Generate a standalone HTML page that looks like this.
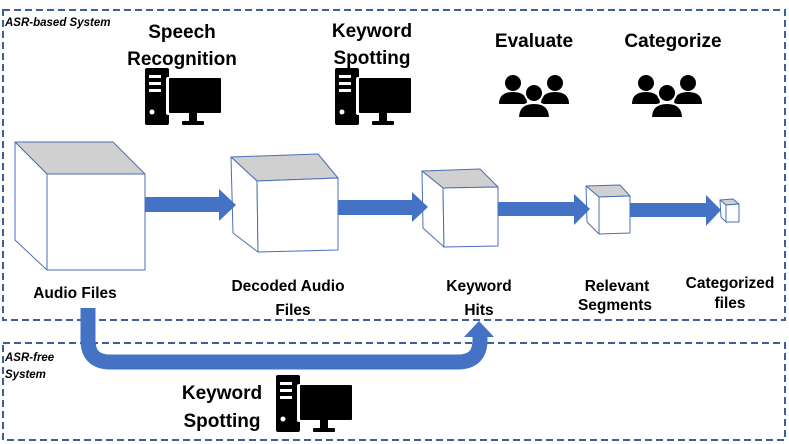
<!DOCTYPE html>
<html><head><meta charset="utf-8"><style>
body{margin:0;background:#fff}
svg{display:block}
text{font-family:"Liberation Sans",sans-serif;fill:#000}
.t{font-size:19px;font-weight:bold;text-anchor:middle}
.l{font-size:15.5px;font-weight:bold;text-anchor:middle}
.i{font-size:11.5px;font-style:italic;font-weight:bold}
</style></head><body>
<svg width="789" height="444" viewBox="0 0 789 444">
<defs>
<g id="pc">
<rect x="0" y="0" width="24" height="57" rx="2" fill="#000"/>
<rect x="4" y="7" width="12" height="3" fill="#fff"/>
<rect x="4" y="14" width="12" height="3" fill="#fff"/>
<rect x="4" y="21" width="12" height="3" fill="#fff"/>
<circle cx="7" cy="44" r="2.5" fill="#fff"/>
<rect x="21" y="9" width="56" height="38" rx="2" fill="#fff"/>
<rect x="24" y="10" width="52" height="35" rx="1" fill="#000"/>
<rect x="44" y="45" width="8" height="8" fill="#000"/>
<rect x="37" y="53" width="22" height="4" rx="1" fill="#000"/>
</g>
<g id="ppl" fill="#000">
<circle cx="14" cy="9" r="8"/><path d="M0,30 Q0,18 14,18 Q28,18 28,30 Z"/>
<circle cx="56" cy="9" r="8"/><path d="M42,30 Q42,18 56,18 Q70,18 70,30 Z"/>
<circle cx="35" cy="19" r="9" stroke="#fff" stroke-width="2"/><path d="M19,44 Q19,29 35,29 Q51,29 51,44 Z" stroke="#fff" stroke-width="2"/>
</g>
</defs>
<rect x="3" y="10" width="782" height="310" fill="none" stroke="#3f5f99" stroke-width="2" stroke-dasharray="7,4"/>
<rect x="3" y="343" width="782" height="97" fill="none" stroke="#3f5f99" stroke-width="2" stroke-dasharray="7,4"/>
<text class="i" x="5" y="26">ASR-based System</text>
<text class="i" x="5" y="361">ASR-free</text>
<text class="i" x="5" y="378">System</text>
<text class="t" x="182" y="38">Speech</text>
<text class="t" x="182" y="65">Recognition</text>
<text class="t" x="372" y="37">Keyword</text>
<text class="t" x="372" y="64">Spotting</text>
<text class="t" x="534" y="47">Evaluate</text>
<text class="t" x="673" y="47">Categorize</text>
<use href="#pc" x="145" y="68"/>
<use href="#pc" x="335" y="68"/>
<use href="#pc" x="276" y="375"/>
<use href="#ppl" x="499" y="74"/>
<use href="#ppl" x="632" y="74"/>
<text class="t" x="222" y="399">Keyword</text>
<text class="t" x="222" y="427">Spotting</text>
<g stroke="#4a6fb5" stroke-width="1" stroke-linejoin="round">
<polygon points="15,142 113,142 145,174 47,174" fill="#d0d0d0"/>
<polygon points="15,142 47,174 47,270 15,240" fill="#fff"/>
<rect x="47" y="174" width="98" height="96" fill="#fff"/>
<polygon points="231,157 318,154 338,178 257,181" fill="#d0d0d0"/>
<polygon points="231,157 257,181 258,252 233,233" fill="#fff"/>
<polygon points="257,181 338,178 338,250 258,252" fill="#fff"/>
<polygon points="422,171 480,169 498,187 443,188" fill="#d0d0d0"/>
<polygon points="422,171 443,188 444,247 423,228" fill="#fff"/>
<polygon points="443,188 498,187 498,246 444,247" fill="#fff"/>
<polygon points="586,186 620,185 630,196 599,197" fill="#d0d0d0"/>
<polygon points="586,186 599,197 599,234 587,222" fill="#fff"/>
<polygon points="599,197 630,196 630,233 599,234" fill="#fff"/>
<polygon points="720,200 733,199 739,204 726,205" fill="#d0d0d0"/>
<polygon points="720,200 726,205 726,222 721,217" fill="#fff"/>
<polygon points="726,205 739,204 739,222 726,222" fill="#fff"/>
</g>
<g fill="#4472c4">
<polygon points="145,197 219,197 219,189 236,205 219,221 219,212 145,212"/>
<polygon points="338,200 412,200 412,192 428,207 412,222 412,215 338,215"/>
<polygon points="498,202 574,202 574,194 590,209 574,225 574,216 498,216"/>
<polygon points="630,203 706,203 706,195 721,210 706,226 706,217 630,217"/>
<path d="M88,308 V340 Q88,362 110,362 H458 Q480,362 480,340 V336" fill="none" stroke="#4472c4" stroke-width="15"/>
<polygon points="464,337 494,337 479,321"/>
</g>
<text class="l" x="75" y="298">Audio Files</text>
<text class="l" x="288" y="291">Decoded Audio</text>
<text class="l" x="293" y="315">Files</text>
<text class="l" x="479" y="291">Keyword</text>
<text class="l" x="479" y="315">Hits</text>
<text class="l" x="617" y="291">Relevant</text>
<text class="l" x="615" y="310">Segments</text>
<text class="l" x="730" y="288">Categorized</text>
<text class="l" x="730" y="308">files</text>
</svg>
</body></html>
